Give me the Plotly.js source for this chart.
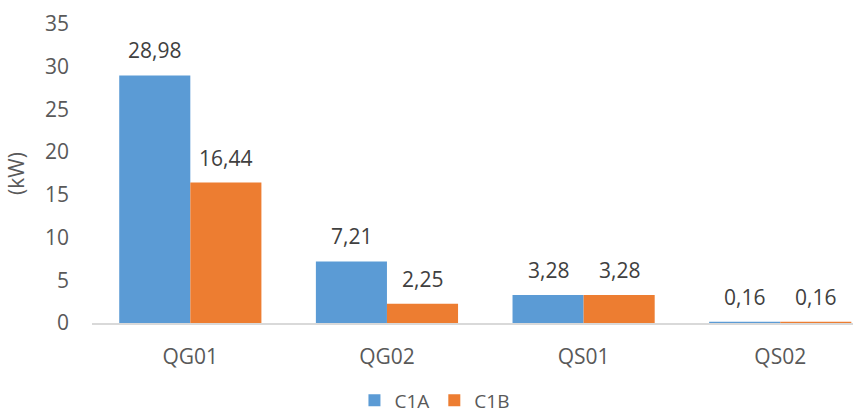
<!DOCTYPE html>
<html><head><meta charset="utf-8">
<script src="https://cdn.plot.ly/plotly-3.0.1.min.js"></script>
<style>html,body{margin:0;padding:0;background:#fff}</style>
</head><body>
<div id="chart" style="width:863px;height:419px"></div>
<script>
const categories = ["QG01", "QG02", "QS01", "QS02"];
const seriesNames = ["C1A", "C1B"];
const c1a = [28.98, 7.21, 3.28, 0.16];
const c1b = [16.44, 2.25, 3.28, 0.16];
const colors = ["#5B9BD5", "#ED7D31"];

const fmt = v => v.toFixed(2).replace('.', ',');
const font = "Open Sans, Liberation Sans, sans-serif";
const fs = 21;

const traces = [c1a, c1b].map((vals, i) => ({
  type: 'bar', name: seriesNames[i], x: categories, y: vals,
  marker: {color: colors[i]}, hoverinfo: 'none'
}));

const annotations = [];
[c1a, c1b].forEach((vals, s) => {
  vals.forEach((v, k) => {
    annotations.push({
      x: k + (s === 0 ? -0.18 : 0.18), y: v, xref: 'x', yref: 'y',
      text: fmt(v), showarrow: false, yanchor: 'middle', yshift: 25,
      font: {family: font, size: fs, color: '#404040'}
    });
  });
});

const layout = {
  width: 863, height: 419,
  margin: {l: 92, r: 10, t: 24, b: 96, autoexpand: false},
  paper_bgcolor: '#fff', plot_bgcolor: '#fff',
  barmode: 'group', bargap: 0.277, bargroupgap: 0,
  font: {family: font, color: '#595959'},
  xaxis: {
    type: 'category', range: [-0.5, 3.37],
    showline: true, linecolor: '#d9d9d9', linewidth: 2,
    ticks: '', showgrid: false, zeroline: false,
    tickfont: {family: font, size: fs, color: '#595959'},
    ticklabelstandoff: 14
  },
  yaxis: {
    range: [0, 35], dtick: 5, tick0: 0,
    showgrid: false, zeroline: false, showline: false, ticks: '',
    tickfont: {family: font, size: fs, color: '#595959'},
    ticklabelstandoff: 22,
    title: {text: '(kW)', font: {family: font, size: fs, color: '#595959'}, standoff: 14}
  },
  showlegend: true,
  legend: {
    orientation: 'h', x: 0.45, xanchor: 'center', xref: 'paper',
    y: -0.195, yanchor: 'top',
    font: {family: font, size: 19, color: '#595959'},
    itemwidth: 30, traceorder: 'normal'
  },
  annotations: annotations
};

Plotly.newPlot('chart', traces, layout, {displayModeBar: false, staticPlot: true});
</script>
</body></html>
